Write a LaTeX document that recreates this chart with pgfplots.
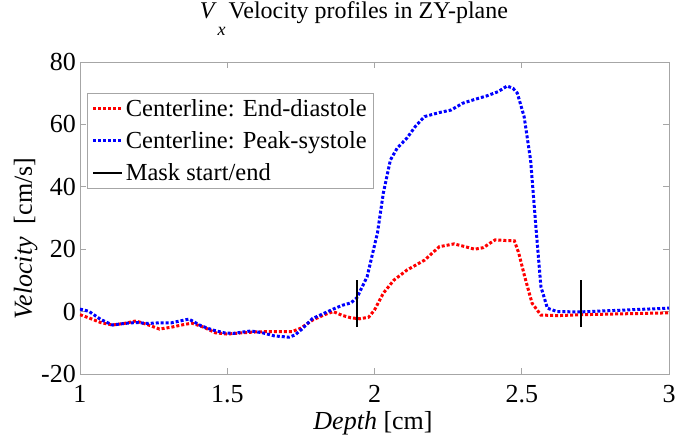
\documentclass[border=0pt]{standalone}
\usepackage{pgfplots}
\pgfplotsset{compat=1.18}
\usepackage{fontspec}
\setmainfont{Liberation Serif}
\begin{document}
\begin{tikzpicture}
\useasboundingbox (-80pt,-67pt) rectangle (595pt,374pt);
\begin{axis}[
  scale only axis, width=589pt, height=312pt,
  at={(0,0)}, anchor=south west,
  xmin=1, xmax=3, ymin=-20, ymax=80,
  xtick={1,1.5,2,2.5,3}, ytick={-20,0,20,40,60,80},
  xticklabels={1,1.5,2,2.5,3},
  /pgf/number format/assume math mode=true,
  tick align=inside, major tick length=6pt,
  tick style={gray!70, line width=0.6pt},
  axis line style={gray!70, line width=0.8pt},
  ticklabel style={font=\fontsize{26}{26}\selectfont, black},
  xticklabel style={inner sep=0pt, text height=17pt, yshift=-11pt},
  yticklabel style={inner sep=0pt, text height=17pt, text depth=0pt, xshift=-4pt},
  xlabel={\textit{Depth} [cm]},
  ylabel={\textit{Velocity}\enspace [cm/s]},
  label style={font=\fontsize{26}{26}\selectfont},
  xlabel style={at={(axis description cs:0.4975,-0.1763)}, anchor=base},
  ylabel style={at={(axis description cs:-0.0815,0.434)}, anchor=base},
  title={\textit{V}\kern1pt\raisebox{-17pt}{\fontsize{18}{18}\selectfont\textit{x}}\kern3pt Velocity profiles in ZY-plane},
  title style={font=\fontsize{24}{24}\selectfont, at={(axis description cs:0.465,1.1186)}, anchor=base},
  legend style={at={(axis description cs:0.0119,0.900)}, anchor=north west,
    font=\fontsize{24.5}{24.5}\selectfont, draw=gray!70, line width=0.6pt,
    row sep=9.5pt, inner xsep=4.5pt, inner ysep=4pt, legend cell align=left},
  legend image code/.code={\draw[#1] (0pt,0pt) -- (29pt,0pt);},
]
\addplot[red, line width=3pt, dash pattern=on 3pt off 2pt] coordinates {
(1.00,-1.0) (1.03,-2.0) (1.07,-3.5) (1.11,-4.3) (1.15,-3.8) (1.19,-3.0)
(1.23,-4.2) (1.27,-5.6) (1.31,-5.0) (1.35,-4.2) (1.38,-3.7) (1.42,-5.0)
(1.46,-6.8) (1.50,-7.2) (1.55,-6.8) (1.60,-6.5) (1.66,-6.4) (1.72,-6.4)
(1.75,-5.3) (1.79,-2.7) (1.83,-1.0) (1.86,0.0) (1.89,-1.2) (1.92,-2.0)
(1.95,-2.3) (1.98,-1.8) (2.00,0.5) (2.03,5.9) (2.066,10.1) (2.11,13.3)
(2.17,16.5) (2.22,20.8) (2.27,21.7) (2.30,21.0) (2.34,20.0) (2.37,20.5)
(2.39,21.8) (2.41,23.0) (2.44,22.8) (2.475,22.7) (2.49,18.7) (2.51,11.2)
(2.535,2.7) (2.565,-1.1) (2.62,-1.3) (2.70,-1.0) (2.80,-0.8) (2.90,-0.6) (3.00,-0.4)
};
\addlegendentry{Centerline: End-diastole}
\addplot[blue, line width=3pt, dash pattern=on 3pt off 2pt] coordinates {
(1.00,0.8) (1.03,0.1) (1.07,-2.5) (1.11,-4.3) (1.15,-3.8) (1.19,-3.5)
(1.23,-3.8) (1.27,-3.6) (1.31,-3.6) (1.34,-3.0) (1.37,-2.4) (1.41,-4.5)
(1.45,-5.9) (1.49,-6.8) (1.52,-7.0) (1.55,-6.6) (1.58,-6.2) (1.62,-6.8)
(1.66,-7.8) (1.71,-8.2) (1.73,-7.5) (1.75,-5.9) (1.79,-2.2) (1.83,-0.5)
(1.86,0.8) (1.89,2.0) (1.92,2.8) (1.94,4.4) (1.975,11.2) (2.01,25.2)
(2.03,38) (2.054,48.6) (2.077,52.4) (2.11,55.6) (2.14,59.5) (2.17,62.5)
(2.22,63.8) (2.26,64.6) (2.30,66.8) (2.34,68.0) (2.38,69.1) (2.42,70.5)
(2.45,72.3) (2.47,71.6) (2.485,70) (2.508,62.5) (2.53,48.6) (2.548,27.2)
(2.565,8) (2.587,1.1) (2.62,0.0) (2.70,-0.1) (2.80,0.3) (2.90,0.7) (3.00,1.1)
};
\addlegendentry{Centerline: Peak-systole}
\addplot[black, line width=2pt] coordinates {(1.942,-5) (1.942,10)};
\addlegendentry{Mask start/end}
\addplot[black, line width=2pt, forget plot] coordinates {(2.70,-5) (2.70,10)};
\end{axis}
\end{tikzpicture}
\end{document}
